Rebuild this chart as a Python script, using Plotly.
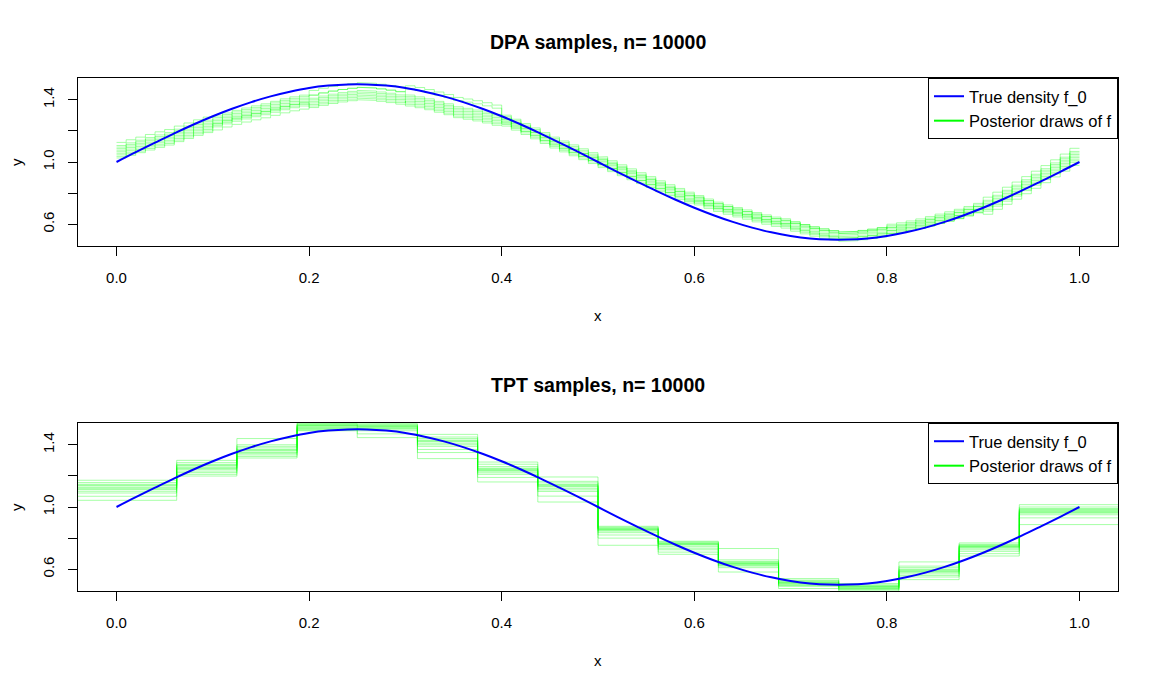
import plotly.graph_objects as go

# ---------------- data ----------------
X_TRUE = [0.00, 0.02, 0.04, 0.06, 0.08, 0.10, 0.12, 0.14, 0.16, 0.18,
          0.20, 0.22, 0.24, 0.26, 0.28, 0.30, 0.32, 0.34, 0.36, 0.38,
          0.40, 0.42, 0.44, 0.46, 0.48, 0.50, 0.52, 0.54, 0.56, 0.58,
          0.60, 0.62, 0.64, 0.66, 0.68, 0.70, 0.72, 0.74, 0.76, 0.78,
          0.80, 0.82, 0.84, 0.86, 0.88, 0.90, 0.92, 0.94, 0.96, 0.98, 1.00]
F_TRUE = [1.000, 1.063, 1.124, 1.184, 1.241, 1.294, 1.342, 1.385, 1.422, 1.452,
          1.476, 1.491, 1.499, 1.499, 1.491, 1.476, 1.452, 1.422, 1.385, 1.342,
          1.294, 1.241, 1.184, 1.124, 1.063, 1.000, 0.937, 0.876, 0.816, 0.759,
          0.706, 0.658, 0.615, 0.578, 0.548, 0.525, 0.509, 0.501, 0.501, 0.509,
          0.525, 0.548, 0.578, 0.615, 0.658, 0.706, 0.759, 0.816, 0.876, 0.937, 1.000]

# DPA: 100 bins on [0,1]; centre of the band of posterior draws per bin
DPA_NBINS = 100
DPA_MEAN = [1.076, 1.093, 1.110, 1.127, 1.144, 1.159, 1.181, 1.201, 1.221, 1.239,
            1.256, 1.275, 1.292, 1.307, 1.321, 1.334, 1.350, 1.366, 1.379, 1.390,
            1.400, 1.414, 1.426, 1.436, 1.444, 1.450, 1.446, 1.440, 1.432, 1.422,
            1.410, 1.399, 1.386, 1.370, 1.354, 1.335, 1.325, 1.314, 1.301, 1.286,
            1.271, 1.245, 1.217, 1.189, 1.159, 1.130, 1.105, 1.080, 1.055, 1.030,
            1.004, 0.978, 0.952, 0.926, 0.901, 0.876, 0.849, 0.824, 0.800, 0.776,
            0.754, 0.732, 0.712, 0.694, 0.677, 0.662, 0.645, 0.630, 0.616, 0.605,
            0.595, 0.578, 0.563, 0.550, 0.539, 0.530, 0.534, 0.540, 0.548, 0.558,
            0.570, 0.579, 0.591, 0.604, 0.619, 0.635, 0.650, 0.666, 0.684, 0.704,
            0.724, 0.756, 0.788, 0.821, 0.856, 0.891, 0.927, 0.964, 1.001, 1.038]
# deviation of each DPA draw from the band centre, per tenth of [0,1]
DPA_OFFSETS = [
    [0.05, 0.03, 0.03, 0.06, 0.02, 0.02, 0.01, 0.02, 0.02, 0.05],
    [0.03, 0.02, 0.06, 0.08, 0.03, 0.01, 0.02, 0.01, 0.03, 0.03],
    [0.01, 0.04, 0.03, 0.01, 0.00, 0.03, 0.02, 0.00, 0.01, 0.02],
    [-0.01, 0.00, 0.01, 0.02, 0.01, -0.01, 0.00, 0.02, 0.00, 0.00],
    [0.00, -0.01, -0.01, 0.00, -0.02, 0.00, -0.01, -0.01, -0.01, 0.01],
    [-0.02, -0.02, -0.02, -0.03, -0.01, -0.02, 0.00, -0.02, -0.02, -0.02],
    [-0.04, -0.03, -0.04, -0.02, -0.03, -0.03, -0.02, -0.03, -0.01, -0.04],
    [-0.05, -0.05, -0.03, -0.05, -0.04, -0.02, -0.03, -0.04, -0.03, -0.06],
    [0.02, 0.01, 0.00, -0.01, 0.00, 0.01, 0.03, 0.01, 0.01, -0.01],
    [-0.03, -0.01, -0.05, -0.04, -0.02, -0.04, -0.01, -0.02, -0.03, -0.03],
]

# TPT: 16 bins of width 1/16; 12 posterior draws per bin
TPT_EDGES = [0.0, 0.0625, 0.125, 0.1875, 0.25, 0.3125, 0.375, 0.4375, 0.5,
             0.5625, 0.625, 0.6875, 0.75, 0.8125, 0.875, 0.9375, 1.0]
TPT_BIN_DRAWS = [
    [1.172, 1.157, 1.146, 1.135, 1.125, 1.112, 1.101, 1.090, 1.069, 1.043, 1.118, 1.140],
    [1.300, 1.285, 1.274, 1.263, 1.253, 1.242, 1.231, 1.221, 1.210, 1.199, 1.248, 1.268],
    [1.440, 1.400, 1.390, 1.380, 1.370, 1.360, 1.350, 1.345, 1.335, 1.325, 1.315, 1.365],
    [1.540, 1.535, 1.530, 1.525, 1.520, 1.515, 1.510, 1.505, 1.500, 1.495, 1.490, 1.525],
    [1.536, 1.530, 1.525, 1.520, 1.515, 1.510, 1.505, 1.500, 1.490, 1.470, 1.446, 1.520],
    [1.467, 1.450, 1.440, 1.430, 1.420, 1.410, 1.400, 1.390, 1.370, 1.350, 1.311, 1.425],
    [1.289, 1.275, 1.260, 1.250, 1.245, 1.240, 1.230, 1.220, 1.210, 1.190, 1.161, 1.235],
    [1.193, 1.165, 1.155, 1.145, 1.140, 1.130, 1.120, 1.110, 1.100, 1.070, 1.032, 1.135],
    [0.876, 0.870, 0.865, 0.860, 0.855, 0.850, 0.845, 0.835, 0.820, 0.800, 0.754, 0.858],
    [0.780, 0.775, 0.770, 0.765, 0.760, 0.755, 0.745, 0.735, 0.725, 0.710, 0.696, 0.762],
    [0.733, 0.660, 0.650, 0.645, 0.640, 0.635, 0.630, 0.625, 0.620, 0.610, 0.582, 0.638],
    [0.540, 0.530, 0.525, 0.520, 0.515, 0.510, 0.505, 0.500, 0.495, 0.490, 0.476, 0.512],
    [0.508, 0.500, 0.495, 0.490, 0.485, 0.480, 0.478, 0.475, 0.470, 0.465, 0.454, 0.488],
    [0.647, 0.620, 0.610, 0.600, 0.590, 0.585, 0.580, 0.570, 0.560, 0.550, 0.533, 0.595],
    [0.769, 0.760, 0.755, 0.750, 0.745, 0.740, 0.735, 0.725, 0.715, 0.700, 0.685, 0.748],
    [1.015, 1.000, 0.990, 0.985, 0.980, 0.975, 0.970, 0.960, 0.950, 0.930, 0.887, 0.965],
]

TITLES = ["DPA samples, n= 10000", "TPT samples, n= 10000"]
LEGEND_NAMES = ["True density f_0", "Posterior draws of f"]
X_TICKS = [0.0, 0.2, 0.4, 0.6, 0.8, 1.0]
X_TICKTEXT = ["0.0", "0.2", "0.4", "0.6", "0.8", "1.0"]
Y_TICKS = [0.6, 0.8, 1.0, 1.2, 1.4]
Y_TICKTEXT = ["0.6", "", "1.0", "", "1.4"]

# ---------------- styling ----------------
X_RANGE = [-0.04, 1.04]
Y_RANGE = [0.46, 1.54]
BLUE = "rgb(0,0,255)"
GREEN_T = "rgba(0,255,0,0.35)"
GREEN = "rgb(0,255,0)"
FONT = "Liberation Sans, Arial, Helvetica, sans-serif"
PAGE_OFF = 8                      # default body margin of the html page
W, H = 1151, 681
ML, MR, MT, MB = 70, 41, 70, 98
PLOT_W = W - ML - MR
PLOT_H = H - MT - MB


def step_xy(edges, vals, ext_left=None, ext_right=None):
    xs, ys = [], []
    for i, v in enumerate(vals):
        x0 = edges[i]
        x1 = edges[i + 1]
        if i == 0 and ext_left is not None:
            x0 = ext_left
        if i == len(vals) - 1 and ext_right is not None:
            x1 = ext_right
        xs += [x0, x1]
        ys += [v, v]
    return xs, ys


def py(pix):
    """page pixel row -> paper y"""
    return (H - MB - (pix - PAGE_OFF)) / PLOT_H


def px(pix):
    """page pixel column -> paper x"""
    return (pix - PAGE_OFF - ML) / PLOT_W


fig = go.Figure()

# --- DPA panel (x, y) ---
dpa_edges = [i / DPA_NBINS for i in range(DPA_NBINS + 1)]
for off in DPA_OFFSETS:
    vals = [DPA_MEAN[i] + off[i * len(off) // DPA_NBINS] for i in range(DPA_NBINS)]
    xs, ys = step_xy(dpa_edges, vals)
    fig.add_trace(go.Scatter(x=xs, y=ys, mode="lines", xaxis="x", yaxis="y",
                             line=dict(color=GREEN_T, width=1), showlegend=False,
                             hoverinfo="skip"))

# --- TPT panel (x2, y2) ---
n_draws = len(TPT_BIN_DRAWS[0])
for k in range(n_draws):
    vals = [b[k] for b in TPT_BIN_DRAWS]
    xs, ys = step_xy(TPT_EDGES, vals, ext_left=X_RANGE[0] - 0.05, ext_right=X_RANGE[1] + 0.05)
    fig.add_trace(go.Scatter(x=xs, y=ys, mode="lines", xaxis="x2", yaxis="y2",
                             line=dict(color=GREEN_T, width=1), showlegend=False,
                             hoverinfo="skip"))

# true density and legend entries
for ax, lg in [("", "legend"), ("2", "legend2")]:
    fig.add_trace(go.Scatter(x=X_TRUE, y=F_TRUE, mode="lines", line_shape="spline",
                             xaxis="x" + ax, yaxis="y" + ax,
                             line=dict(color=BLUE, width=2), name=LEGEND_NAMES[0],
                             legend=lg, showlegend=True))
    fig.add_trace(go.Scatter(x=[None], y=[None], mode="lines",
                             xaxis="x" + ax, yaxis="y" + ax,
                             line=dict(color=GREEN, width=2), name=LEGEND_NAMES[1],
                             legend=lg, showlegend=True))

top_dom = [py(246), 1.0]
bot_dom = [0.0, py(423)]

xaxis_style = dict(range=X_RANGE, tickvals=X_TICKS, ticktext=X_TICKTEXT,
                   showline=True, mirror=True, linecolor="black", linewidth=1,
                   ticks="outside", ticklen=9, tickcolor="black", tickwidth=1,
                   showgrid=False, zeroline=False, ticklabelstandoff=9,
                   tickfont=dict(family=FONT, size=15, color="black"))
yaxis_style = dict(range=Y_RANGE, tickvals=Y_TICKS, ticktext=Y_TICKTEXT,
                   showline=True, mirror=True, linecolor="black", linewidth=1,
                   ticks="outside", ticklen=9, tickcolor="black", tickwidth=1,
                   showgrid=False, zeroline=False, tickangle=-90,
                   ticklabelstandoff=8,
                   tickfont=dict(family=FONT, size=15, color="black"))

legend_style = dict(xanchor="right", x=1.0, yanchor="top",
                    bordercolor="black", borderwidth=1, bgcolor="white",
                    font=dict(family=FONT, size=16.5, color="black"),
                    tracegroupgap=0, itemwidth=30)


def label(text, x, y, size, angle=0):
    return dict(text=text, x=x, y=y, xref="paper", yref="paper", showarrow=False,
                xanchor="center", yanchor="middle", textangle=angle,
                font=dict(family=FONT, size=size, color="black"))


annotations = [
    label("<b>" + TITLES[0] + "</b>", 0.5, py(42), 19.5),
    label("<b>" + TITLES[1] + "</b>", 0.5, py(385), 19.5),
    label("x", 0.5, py(315), 15),
    label("x", 0.5, py(660), 15),
    label("y", px(16), py(162), 15, -90),
    label("y", px(16), py(507), 15, -90),
]

fig.update_layout(
    width=W, height=H,
    margin=dict(l=ML, r=MR, t=MT, b=MB),
    paper_bgcolor="white", plot_bgcolor="white",
    xaxis=dict(domain=[0, 1], anchor="y", **xaxis_style),
    yaxis=dict(domain=top_dom, anchor="x", **yaxis_style),
    xaxis2=dict(domain=[0, 1], anchor="y2", **xaxis_style),
    yaxis2=dict(domain=bot_dom, anchor="x2", **yaxis_style),
    legend=dict(y=1.0, **legend_style),
    legend2=dict(y=bot_dom[1], **legend_style),
    annotations=annotations,
    showlegend=True,
)

fig.write_html("out.html")
